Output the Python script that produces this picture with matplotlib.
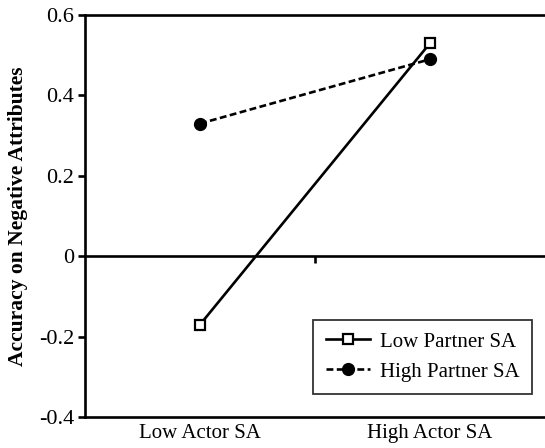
import matplotlib.pyplot as plt

categories = ["Low Actor SA", "High Actor SA"]
low_partner = [-0.17, 0.53]
high_partner = [0.33, 0.49]
series_names = ["Low Partner SA", "High Partner SA"]

plt.rcParams["font.family"] = ["Liberation Serif", "DejaVu Serif"]

fig = plt.figure(figsize=(5.45, 4.48), dpi=100)
ax = fig.add_axes([0.156, 0.069, 0.844, 0.8975])

x = list(range(len(categories)))
ax.plot(x, low_partner, color="black", linestyle="-", linewidth=1.9,
        marker="s", markersize=7.5, markerfacecolor="white",
        markeredgecolor="black", markeredgewidth=1.6, label=series_names[0])
ax.plot(x, high_partner, color="black", linestyle=(0, (2.6, 1.3)), linewidth=1.9,
        marker="o", markersize=8.5, markerfacecolor="black",
        markeredgecolor="black", label=series_names[1])

ax.axhline(0, color="black", linewidth=1.9, zorder=1)
ax.plot([0.5], [0], marker=3, color="black", markersize=5, markeredgewidth=1.9)

ax.set_xlim(-0.5, 1.5)
ax.set_ylim(-0.4, 0.6)
ax.set_yticks([-0.4, -0.2, 0, 0.2, 0.4, 0.6])
ax.set_yticklabels(["-0.4", "-0.2", "0", "0.2", "0.4", "0.6"])
ax.set_xticks(x)
ax.set_xticklabels(categories)
ax.tick_params(axis="x", length=0, labelsize=15, pad=5)
ax.tick_params(axis="y", direction="out", length=5, width=1.9, labelsize=16, pad=3)

ax.spines["right"].set_visible(False)
for s in ["left", "top", "bottom"]:
    ax.spines[s].set_linewidth(1.9)

ax.set_ylabel("Accuracy on Negative Attributes", fontsize=15.5, fontweight="bold", labelpad=8)

leg = ax.legend(loc="lower right", bbox_to_anchor=(0.972, 0.057), fontsize=15,
                frameon=True, fancybox=False, edgecolor="black", handlelength=2.1,
                borderpad=0.6, labelspacing=0.5, handletextpad=0.5, borderaxespad=0)
leg.get_frame().set_linewidth(1.3)

fig.savefig("out.png", dpi=100)
